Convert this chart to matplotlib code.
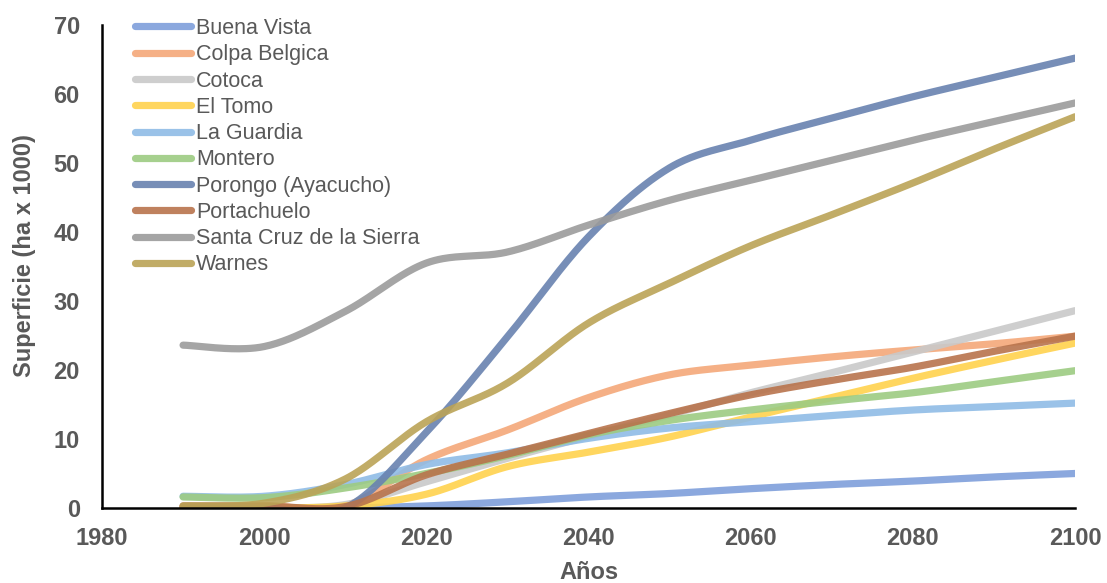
import numpy as np
import matplotlib
matplotlib.use("Agg")
import matplotlib.pyplot as plt

# Projected urban surface by municipality (ha x 1000)
years = [1990, 2000, 2010, 2020, 2030, 2040, 2050, 2060, 2070, 2080, 2090, 2100]

buena_vista = [0.0, 0.0, 0.0, 0.3, 0.9, 1.6, 2.1, 2.8, 3.4, 3.9, 4.5, 5.0]
colpa_belgica = [0.2, 0.3, 0.3, 7.0, 11.3, 16.0, 19.3, 20.7, 21.9, 22.9, 23.8, 24.9]
cotoca = [0.0, 0.0, 0.5, 3.8, 7.2, 10.4, 13.5, 16.7, 19.6, 22.6, 25.6, 28.6]
el_tomo = [0.0, 0.0, 0.3, 2.0, 6.0, 8.1, 10.3, 13.2, 16.0, 18.8, 21.4, 23.9]
la_guardia = [1.7, 1.7, 3.4, 6.3, 8.0, 10.1, 11.6, 12.5, 13.4, 14.2, 14.7, 15.2]
montero = [1.6, 1.5, 2.9, 5.0, 7.6, 10.6, 12.7, 14.2, 15.5, 16.7, 18.3, 19.9]
porongo = [0.0, 0.0, 0.0, 11.0, 24.8, 39.3, 49.3, 53.3, 56.5, 59.6, 62.4, 65.2]
portachuelo = [0.3, 0.3, 0.2, 4.8, 7.8, 10.8, 13.7, 16.4, 18.5, 20.4, 22.7, 24.9]
santa_cruz = [23.6, 23.4, 28.5, 35.5, 37.1, 41.0, 44.6, 47.5, 50.4, 53.3, 56.0, 58.7]
warnes = [0.3, 0.7, 4.2, 12.5, 18.1, 26.8, 32.6, 38.0, 42.5, 47.1, 52.0, 56.7]

series_names = ["Buena Vista", "Colpa Belgica", "Cotoca", "El Tomo", "La Guardia",
                "Montero", "Porongo (Ayacucho)", "Portachuelo",
                "Santa Cruz de la Sierra", "Warnes"]
series_values = [buena_vista, colpa_belgica, cotoca, el_tomo, la_guardia,
                 montero, porongo, portachuelo, santa_cruz, warnes]
colors = ["#7f9fdb", "#f4a879", "#c9c9c9", "#ffd24d", "#8fbce6",
          "#9dcb82", "#6882b0", "#b8734c", "#9b9b9b", "#bba356"]

x_ticks = [1980, 2000, 2020, 2040, 2060, 2080, 2100]
y_ticks = [0, 10, 20, 30, 40, 50, 60, 70]


def smooth(x, y, n=40):
    """Catmull-Rom style Bezier smoothing between consecutive points."""
    x = np.asarray(x, float)
    y = np.asarray(y, float)
    px = np.concatenate([[x[0]], x, [x[-1]]])
    py = np.concatenate([[y[0]], y, [y[-1]]])
    t = np.linspace(0, 1, n)
    xs, ys = [], []
    for i in range(1, len(px) - 2):
        p0 = np.array([px[i - 1], py[i - 1]])
        p1 = np.array([px[i], py[i]])
        p2 = np.array([px[i + 1], py[i + 1]])
        p3 = np.array([px[i + 2], py[i + 2]])
        c1 = p1 + (p2 - p0) / 6.0
        c2 = p2 - (p3 - p1) / 6.0
        b = ((1 - t) ** 3)[:, None] * p1 + (3 * (1 - t) ** 2 * t)[:, None] * c1 \
            + (3 * (1 - t) * t ** 2)[:, None] * c2 + (t ** 3)[:, None] * p2
        if i > 1:
            b = b[1:]
        xs.append(b[:, 0])
        ys.append(b[:, 1])
    return np.concatenate(xs), np.concatenate(ys)


plt.rcParams["font.family"] = ["Liberation Sans", "DejaVu Sans"]

fig = plt.figure(figsize=(11.07, 5.83), dpi=100)
ax = fig.add_axes([102 / 1107, 1 - 508 / 583, (1075 - 102) / 1107, (508 - 25) / 583])

for name, vals, col in zip(series_names, series_values, colors):
    sx, sy = smooth(years, vals)
    ax.plot(sx, sy, color=col, lw=5.2, alpha=0.9, solid_capstyle="round", label=name)

ax.set_xlim(1980, 2100)
ax.set_ylim(0, 70)
ax.set_xticks(x_ticks)
ax.set_yticks(y_ticks)

for side in ("top", "right"):
    ax.spines[side].set_visible(False)
for side in ("left", "bottom"):
    ax.spines[side].set_linewidth(1.8)
    ax.spines[side].set_color("black")

label_color = "#595959"
ax.tick_params(axis="both", length=0, labelsize=17, labelcolor=label_color)
ax.tick_params(axis="y", pad=16)
ax.tick_params(axis="x", pad=14)
for lbl in ax.get_xticklabels() + ax.get_yticklabels():
    lbl.set_fontweight("bold")

ax.set_xlabel("Años", fontsize=17, fontweight="bold", color=label_color)
ax.set_ylabel("Superficie (ha x 1000)", fontsize=17, fontweight="bold",
              color=label_color)
ax.xaxis.set_label_coords(0.5, (508 - 561) / 483)
ax.yaxis.set_label_coords((36 - 102) / 973, 0.522)

leg = fig.legend(loc="upper left", bbox_to_anchor=(135 / 1107, 1 - 18 / 583),
                 bbox_transform=fig.transFigure, frameon=False, fontsize=15.5,
                 handlelength=2.6, handletextpad=0.23, labelspacing=0.245,
                 borderpad=0, borderaxespad=0)
for txt in leg.get_texts():
    txt.set_color(label_color)

fig.savefig("out.png", dpi=100)
